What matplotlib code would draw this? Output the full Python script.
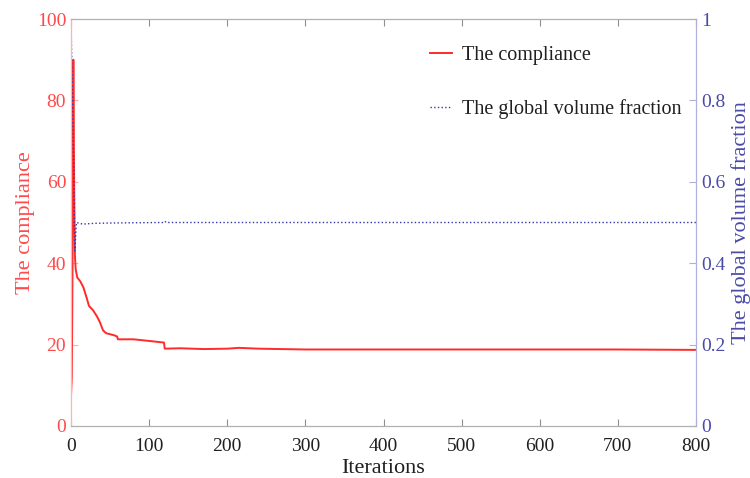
import matplotlib
matplotlib.use("Agg")
import matplotlib.pyplot as plt
from matplotlib.ticker import FixedLocator

plt.rcParams['font.family'] = ['Liberation Serif', 'DejaVu Serif']

# Compliance history (iteration, value)
comp_iter = [0, 1, 2, 3, 4, 5, 6, 8, 12, 16, 20, 23, 28, 33, 37, 41, 45, 55, 59, 60,
             80, 100, 119, 120, 140, 170, 200, 215, 240, 300, 400, 500, 600, 700, 800]
compliance = [7.5, 12, 40, 90, 60, 42, 38.5, 36.5, 35.5, 34, 31.5, 29.5, 28.5, 27, 25.5,
              23.5, 22.8, 22.3, 22.0, 21.3, 21.3, 20.9, 20.5, 19.0, 19.1, 18.9, 19.0,
              19.2, 19.0, 18.8, 18.8, 18.8, 18.8, 18.8, 18.7]

# Global volume fraction history (iteration, value)
vol_iter = [0, 1, 2, 3, 4, 5, 6, 7, 15, 30, 60, 118, 120, 122, 200, 400, 600, 800]
volume = [1.0, 0.9, 0.8, 0.7, 0.55, 0.43, 0.47, 0.5, 0.496, 0.498, 0.499, 0.5, 0.503,
          0.5, 0.5, 0.5, 0.5, 0.5]

x_ticks = [0, 100, 200, 300, 400, 500, 600, 700, 800]
left_ticks = [0, 20, 40, 60, 80, 100]
right_ticks = [0, 0.2, 0.4, 0.6, 0.8, 1]
right_tick_labels = ["0", "0.2", "0.4", "0.6", "0.8", "1"]

red = '#ff2a2a'
red_text = '#ff4a4a'
blue = '#3535a8'
blue_text = '#4a4aa8'

fig = plt.figure(figsize=(7.5, 4.78), dpi=100)
ax1 = fig.add_axes([71 / 750, 1 - 426 / 478, 625 / 750, 407 / 478])
ax2 = ax1.twinx()

l1, = ax1.plot(comp_iter, compliance, color=red, lw=1.4, label='The compliance')
l2, = ax2.plot(vol_iter, volume, color=blue, lw=1.0, ls=':', label='The global volume fraction')

ax1.set_xlim(0, 800)
ax1.set_ylim(0, 100)
ax2.set_ylim(0, 1)

ax1.xaxis.set_major_locator(FixedLocator(x_ticks))
ax1.yaxis.set_major_locator(FixedLocator(left_ticks))
ax2.yaxis.set_major_locator(FixedLocator(right_ticks))
ax2.set_yticklabels(right_tick_labels)

for ax in (ax1, ax2):
    ax.spines['top'].set_color('#b0b0b0')
    ax.spines['bottom'].set_color('#b0b0b0')
    ax.spines['left'].set_color('#ffb0b0')
    ax.spines['right'].set_color('#b0b0dd')

ax1.tick_params(axis='x', direction='in', top=True, colors='#909090',
                labelcolor='#202020', labelsize=14, length=5, pad=8.5)
ax1.tick_params(axis='y', direction='in', colors='#ffb0b0', labelcolor=red_text,
                labelsize=14, length=5)
ax2.tick_params(axis='y', direction='in', colors='#b0b0dd', labelcolor=blue_text,
                labelsize=14, length=5)

ax1.set_xlabel('Iterations', fontsize=16, color='#202020', labelpad=3)
ax1.set_ylabel('The compliance', fontsize=16, color=red_text, labelpad=1)
ax2.set_ylabel('The global volume fraction', fontsize=16, color=blue_text, labelpad=4)

leg = ax2.legend(handles=[l1, l2], loc='upper left',
                 bbox_to_anchor=(430 / 750, 1 - 46 / 478),
                 bbox_transform=fig.transFigure, frameon=False, fontsize=14.5,
                 handlelength=1.1, handletextpad=0.5, labelspacing=1.7,
                 borderpad=0, borderaxespad=0)
for t in leg.get_texts():
    t.set_color('#202020')

fig.savefig('out.png', dpi=100)
